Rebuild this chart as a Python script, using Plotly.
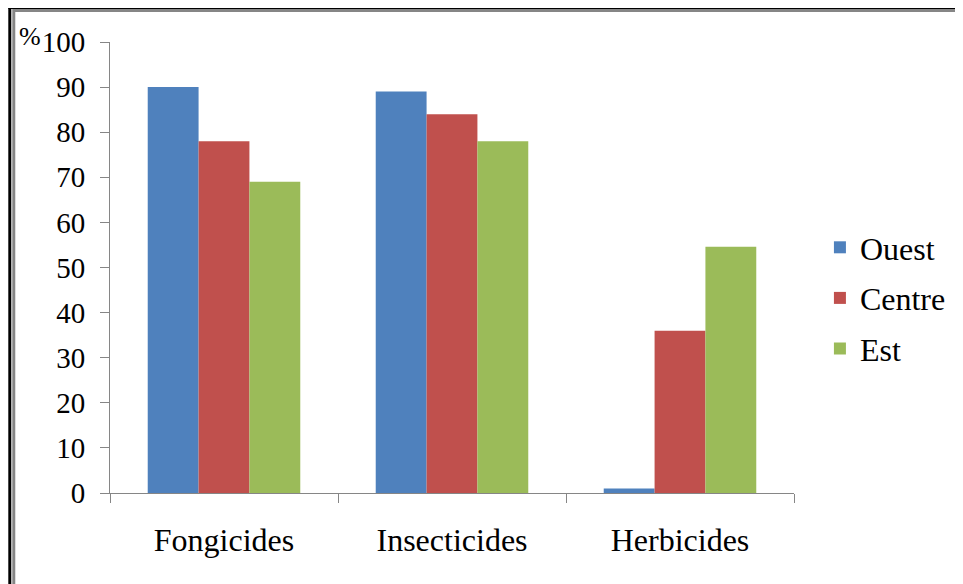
import plotly.graph_objects as go

categories = ["Fongicides", "Insecticides", "Herbicides"]
ouest = [90, 89, 1]
centre = [78, 84, 36]
est = [69, 78, 54.6]
series_names = ["Ouest", "Centre", "Est"]
colors = ["#4F81BD", "#C0504D", "#9BBB59"]
y_ticks = [0, 10, 20, 30, 40, 50, 60, 70, 80, 90, 100]

# page body adds an 8px offset; figure sized to fit the window
OFF = 8
W, H = 963 - OFF, 584 - OFF
L, R, T, B = 102, 167, 34, 91
pw, ph = W - L - R, H - T - B

def px(x):  # reference pixel x -> paper
    return (x - OFF - L) / pw

def py(y):  # reference pixel y -> paper
    return (H - B - (y - OFF)) / ph

fig = go.Figure()
for name, vals, col in zip(series_names, [ouest, centre, est], colors):
    fig.add_trace(go.Bar(x=categories, y=vals, name=name, marker_color=col,
                         marker_line_width=0, legendgroup=name))

font = "Liberation Serif"
fig.update_layout(
    width=W, height=H,
    margin=dict(l=L, r=R, t=T, b=B),
    paper_bgcolor="white", plot_bgcolor="white",
    barmode="group", bargap=0.331, bargroupgap=0,
    font=dict(family=font, color="black"),
    showlegend=True,
    legend=dict(x=px(822), xanchor="left", y=py(298), yanchor="middle",
                font=dict(size=32, family=font, color="black"),
                traceorder="grouped", tracegroupgap=6,
                bgcolor="rgba(0,0,0,0)"),
    xaxis=dict(showline=True, linecolor="#868686", linewidth=1,
               ticks="outside", tickson="boundaries", ticklen=9, tickcolor="#868686",
               tickfont=dict(size=32, family=font, color="black"),
               ticklabelstandoff=19, showgrid=False, range=[-0.5, 2.5]),
    yaxis=dict(range=[0, 100], tickvals=y_ticks, showline=True, linecolor="#868686",
               linewidth=1, ticks="outside", ticklen=9, tickcolor="#868686",
               tickfont=dict(size=29, family=font, color="black"),
               ticklabelstandoff=9, showgrid=False, zeroline=False),
)

fig.add_annotation(text="%", xref="paper", yref="paper", x=px(30), y=py(36),
                   showarrow=False, font=dict(size=26, family=font, color="black"),
                   xanchor="center", yanchor="middle")

shapes = [
    dict(x0=px(8), x1=px(963), y0=py(7.5), y1=py(7.5), color="black"),
    dict(x0=px(12), x1=px(963), y0=py(10.5), y1=py(10.5), color="#868686"),
    dict(x0=px(9.5), x1=px(9.5), y0=py(6), y1=py(584), color="black"),
    dict(x0=px(13.5), x1=px(13.5), y0=py(12), y1=py(584), color="#868686"),
]
for s in shapes:
    fig.add_shape(type="line", xref="paper", yref="paper", x0=s["x0"], x1=s["x1"],
                  y0=s["y0"], y1=s["y1"], line=dict(color=s["color"], width=3))

fig.write_html("out.html")
